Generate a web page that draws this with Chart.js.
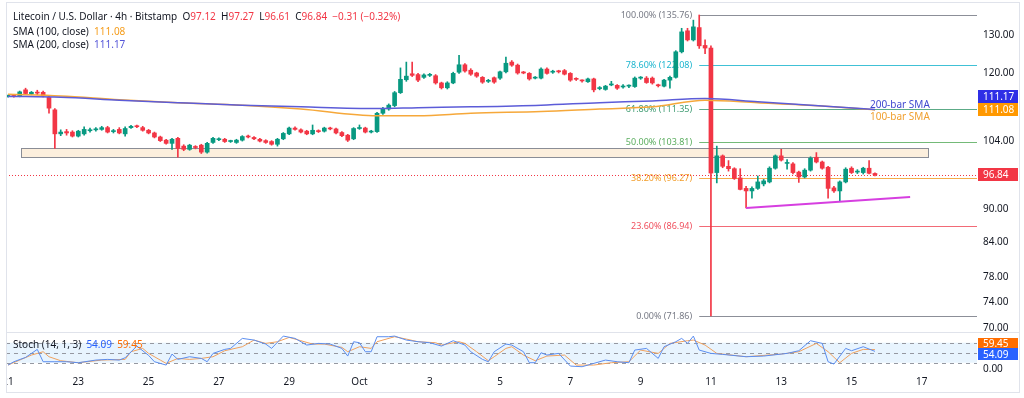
<!DOCTYPE html>
<html>
<head>
<meta charset="utf-8">
<script src="https://cdn.jsdelivr.net/npm/chart.js@4.4.1/dist/chart.umd.min.js"></script>
<style>
  body { margin: 0; background: #fff; font-family: "Noto Sans", sans-serif; }
  #wrap { position: relative; width: 1024px; height: 398px; overflow: hidden; }
  canvas { position: absolute; left: 0; }
  #main { top: 0; }
  #stoch { top: 332px; }
  .legend { position: absolute; left: 13px; font-size: 10px; line-height: 14px; color: #131722; white-space: nowrap; }
  #frame { position: absolute; left: 6px; top: 2px; width: 1014px; height: 391px; box-sizing: border-box; border: 1px solid #e0e3eb; pointer-events: none; }
  #sep { position: absolute; left: 6px; top: 332px; width: 1014px; height: 1px; background: #e0e3eb; }
  #cut { position: absolute; left: 0; top: 372px; width: 6px; height: 20px; background: #fff; }
</style>
</head>
<body>
<div id="wrap">
  <canvas id="main" width="1024" height="332"></canvas>
  <canvas id="stoch" width="1024" height="66"></canvas>
  <div id="cut"></div>
  <div id="frame"></div>
  <div id="sep"></div>
  <div class="legend" id="lg1" style="top:9px"></div>
  <div class="legend" id="lg2" style="top:24px"></div>
  <div class="legend" id="lg3" style="top:37px"></div>
  <div class="legend" id="lg4" style="top:337px"></div>
</div>
<script>
// 4h candles, index 0 = Sep 21 00:00 ... 148 = Oct 15 16:00
var opens = [114.3,114.4,114.4,115.9,114.9,115.2,115.3,114.1,111.1,105.6,106.1,106.0,105.1,105.6,106.3,106.5,106.6,107.0,106.1,106.6,
  105.6,107.0,107.4,107.0,106.4,105.8,104.9,104.2,103.5,104.6,102.9,102.2,102.8,103.1,101.6,103.7,104.3,104.4,103.9,103.7,
  104.2,105.1,104.8,104.4,104.1,103.9,103.3,104.5,105.6,106.9,106.5,106.2,105.6,106.3,106.2,106.9,106.7,105.9,105.3,104.5,
  106.8,106.9,106.0,106.1,110.3,111.3,112.1,115.2,118.4,119.9,119.7,119.0,119.5,119.4,117.6,116.4,117.6,120.3,122.2,120.8,
  120.1,119.0,118.0,118.9,118.8,120.4,122.9,122.1,120.3,120.0,118.8,118.8,121.1,120.3,120.5,120.7,120.0,118.7,118.2,117.9,
  118.6,116.2,116.0,117.1,117.0,116.6,116.8,116.7,118.8,118.8,118.8,117.1,116.8,118.3,119.0,125.6,131.3,128.8,132.2,127.3,
  126.6,97.3,100.8,98.6,98.1,96.2,94.1,93.6,94.1,95.0,95.4,98.2,100.8,99.2,99.1,97.4,96.4,97.8,100.5,99.5,
  98.4,94.2,93.6,95.4,98.2,97.4,97.3,98.2,97.12];
var highs = [114.6,114.6,115.6,116.3,115.5,115.8,115.6,114.3,111.4,106.5,106.6,106.3,106.4,107.2,106.9,107.0,107.3,107.3,106.6,107.0,
  107.2,107.5,107.6,107.3,106.6,106.0,105.1,104.4,104.6,104.8,103.2,103.3,103.0,103.3,103.7,104.8,104.7,104.6,104.2,104.4,
  105.2,105.3,105.0,104.6,104.3,104.1,104.6,105.9,107.1,107.2,106.7,106.4,107.6,106.5,107.1,107.1,106.9,106.1,105.5,107.0,
  107.6,107.1,106.4,110.5,111.7,112.5,115.5,121.4,122.9,122.9,120.0,119.9,120.0,119.7,117.8,117.9,120.3,124.7,122.5,121.2,
  120.3,119.2,118.5,119.1,120.6,124.2,123.3,122.4,120.5,120.2,119.2,121.4,121.4,120.8,120.8,121.0,120.2,118.9,118.4,118.8,
  118.8,116.7,117.0,118.0,117.2,117.2,117.1,119.1,119.2,119.2,119.1,117.3,118.5,119.3,125.9,132.0,132.0,134.3,135.76,128.8,
  127.2,102.9,101.0,99.8,98.3,98.1,94.5,94.4,96.6,95.9,98.5,101.0,102.2,100.0,99.4,97.6,98.1,100.6,101.5,99.7,
  98.6,94.5,95.6,98.3,98.5,97.9,98.4,99.8,97.27];
var lows = [114.1,114.1,114.2,114.8,114.7,114.7,114.2,110.3,102.4,105.2,105.3,104.9,104.9,105.3,106.0,106.2,106.4,105.8,105.8,105.6,
  105.1,106.8,107.0,106.2,105.6,104.7,103.9,103.3,102.2,100.5,101.9,102.0,102.3,101.3,101.4,103.5,104.1,103.7,103.7,103.5,
  104.0,104.7,104.3,103.8,103.5,103.1,102.9,104.3,105.4,106.4,105.8,105.4,105.4,105.9,106.0,106.5,105.6,105.0,103.9,104.3,
  106.6,105.8,105.8,105.9,110.0,111.0,111.8,115.0,118.0,119.2,117.9,118.7,119.2,117.3,116.1,116.1,117.4,120.0,120.3,119.5,
  119.0,117.5,117.7,117.5,118.5,120.1,121.8,119.8,119.9,118.3,118.6,118.6,119.8,120.0,120.1,119.6,118.0,118.2,117.8,117.7,
  115.4,115.9,115.8,116.9,116.0,116.3,116.4,116.5,118.5,117.5,117.3,116.6,116.6,116.3,118.8,125.3,128.5,128.5,126.5,125.1,
  71.86,95.2,98.3,97.6,95.9,93.8,90.3,92.2,93.9,94.6,95.2,98.0,99.7,98.0,97.0,95.3,96.2,97.6,99.3,98.0,
  92.2,93.3,91.5,95.2,97.1,97.1,97.0,97.0,96.61];
var closes = [114.4,114.3,115.4,115.0,115.3,115.1,114.4,111.5,105.6,106.0,105.8,105.1,106.2,106.6,106.5,106.6,107.0,106.0,106.2,105.8,
  106.8,107.3,107.2,106.4,105.8,104.9,104.1,103.5,104.4,102.4,102.2,103.1,102.6,101.6,103.5,104.6,104.5,103.9,104.0,104.2,
  105.0,104.9,104.5,104.0,103.7,103.3,104.4,105.7,106.9,106.6,106.0,105.6,106.4,106.1,106.9,106.7,105.8,105.2,104.2,106.8,
  107.0,106.0,106.2,110.3,111.4,112.2,115.2,118.5,119.3,119.5,118.3,119.6,119.7,117.6,116.4,117.6,120.0,122.2,120.6,119.8,
  119.3,117.8,118.2,117.8,120.4,122.6,122.1,120.1,120.1,118.6,119.0,121.1,120.0,120.5,120.4,119.8,118.3,118.5,118.1,118.6,
  115.9,116.4,116.8,117.3,116.3,116.7,116.9,118.8,118.9,117.7,117.6,116.9,118.3,119.0,125.6,131.0,128.8,132.4,127.2,126.6,
  97.2,100.8,98.6,98.1,96.1,93.9,93.6,94.1,95.4,95.6,98.2,100.8,99.9,99.4,97.3,96.4,97.8,100.3,99.5,98.2,
  94.1,93.6,95.4,98.0,97.3,97.6,98.2,97.15,96.84];

// moving averages, read at a few candle indexes
var smaIdx = [0, 9, 19, 29, 40, 50, 63, 70, 79, 91, 101, 110, 119, 128, 139, 148];
var sma100 = [114.8, 114.4, 113.5, 112.8, 112.2, 111.3, 109.7, 109.7, 110.3, 110.7, 111.3, 111.8, 113.4, 112.8, 112.0, 111.08];
var sma200 = [114.3, 114.1, 113.4, 112.8, 112.2, 111.8, 111.4, 111.6, 111.8, 112.2, 112.8, 113.2, 113.8, 113.0, 112.0, 111.17];

// stochastic %K / %D
var kIdx = [0,1,3,4,5,6,8,10,12,15,17,19,20,22,24,25,27,28,29,31,33,34,35,37,38,40,42,44,45,47,49,51,53,55,57,58,59,60,61,62,
  63,65,66,68,70,72,74,76,78,79,81,82,83,85,86,88,89,90,91,92,94,96,98,100,102,104,106,107,109,111,112,114,115,116,117,118,120,122,126,129,
  133,135,137,139,140,141,143,144,146,148];
var kVal = [13,23,36,48,60,23,23,23,20,28,30,28,35,70,42,23,13,46,30,38,33,23,48,60,63,93,88,76,63,100,93,73,78,76,63,40,83,80,53,53,
  98,98,100,88,83,80,70,86,73,53,30,23,53,76,73,53,20,20,50,43,48,10,8,18,28,23,20,58,63,33,68,83,93,78,100,58,48,45,38,40,
  48,56,86,78,23,16,63,56,68,54.09];
var dIdx = [0,2,4,6,7,9,12,16,20,21,23,24,26,27,29,31,33,35,37,40,42,44,46,48,50,52,54,57,58,60,62,63,66,68,70,73,74,77,78,80,
  82,83,85,86,88,90,92,95,97,100,103,106,108,111,113,116,117,119,121,126,132,135,138,140,142,144,146,148];
var dVal = [13,28,43,53,38,26,20,28,30,53,63,48,28,18,33,30,33,38,56,68,88,78,83,96,86,76,76,66,53,68,63,83,98,91,83,80,73,83,78,53,
  26,38,63,68,43,26,40,43,13,13,20,23,58,48,78,86,88,73,48,38,46,53,78,53,20,48,60,59.45];
var stochLevels = [80, 50, 20];

// fibonacci retracement drawn from candle 118
var fibIdx = 118;
var fibPct = [100, 78.6, 61.8, 50, 38.2, 23.6, 0];
var fibVal = [135.76, 122.08, 111.35, 103.81, 96.27, 86.94, 71.86];
var fibColors = ['#787b86', '#1fb6cf', '#3f9c72', '#5cae60', '#f29d2a', '#f0505e', '#787b86'];

// support zone and rising trend line
var zoneIdx = [2.3, 157];
var zoneVal = [100.6, 102.5];
var trendIdx = [126, 154];
var trendVal = [90.3, 92.4];

var yTicks = [70, 74, 78, 84, 90, 104, 120, 130];
var dayLabels = ['21', '23', '25', '27', '29', 'Oct', '3', '5', '7', '9', '11', '13', '15', '17'];

var GREEN = '#089981', RED = '#f23645';
var FONT = '"Noto Sans", sans-serif';
var xMin = -0.34, xMax = 165.42;

var last = closes.length - 1;
var change = closes[last] - closes[last - 1];

// legend
function span(t, c) { return '<span style="color:' + c + '">' + t + '</span>'; }
function fmtSigned(v) { return (v < 0 ? '\u2212' : '+') + Math.abs(v).toFixed(2); }
document.getElementById('lg1').innerHTML = 'Litecoin / U.S. Dollar \u00b7 4h \u00b7 Bitstamp&nbsp; ' +
  'O' + span(opens[last].toFixed(2), RED) + '&nbsp; H' + span(highs[last].toFixed(2), RED) +
  '&nbsp; L' + span(lows[last].toFixed(2), RED) + '&nbsp; C' + span(closes[last].toFixed(2), RED) +
  '&nbsp; ' + span(fmtSigned(change) + ' (' + fmtSigned(change / closes[last - 1] * 100) + '%)', RED);
document.getElementById('lg2').innerHTML = 'SMA (100, close)&nbsp; ' + span(sma100[sma100.length - 1].toFixed(2), '#f59c1a');
document.getElementById('lg3').innerHTML = 'SMA (200, close)&nbsp; ' + span(sma200[sma200.length - 1].toFixed(2), '#5455d8');
document.getElementById('lg4').innerHTML = 'Stoch (14, 1, 3)&nbsp; ' + span(kVal[kVal.length - 1].toFixed(2), '#2962ff') +
  '&nbsp; ' + span(dVal[dVal.length - 1].toFixed(2), '#ff6d00');

// candle datasets
var bodies = [], wicks = [], colors = [];
for (var i = 0; i < closes.length; i++) {
  bodies.push({ x: i, y: [opens[i], closes[i]] });
  wicks.push({ x: i, y: [lows[i], highs[i]] });
  colors.push(closes[i] >= opens[i] ? GREEN : RED);
}
function pts(idx, vals) { return idx.map(function (v, k) { return { x: v, y: vals[k] }; }); }

// keep the plot area where the layout padding puts it
function noPad(s) { s.paddingTop = 0; s.paddingBottom = 0; s.paddingLeft = 0; s.paddingRight = 0; }

function axisBox(ctx, cy, text, bg, h) {
  ctx.fillStyle = bg;
  ctx.fillRect(978, Math.round(cy - h / 2), 40, h);
  ctx.fillStyle = '#ffffff';
  ctx.font = '10px ' + FONT;
  ctx.textAlign = 'left';
  ctx.textBaseline = 'middle';
  ctx.fillText(text, 983, cy + 0.5);
}

var mainOverlay = {
  id: 'mainOverlay',
  beforeDatasetsDraw: function (chart) {
    var ctx = chart.ctx, a = chart.chartArea, x = chart.scales.x, y = chart.scales.y;
    ctx.save();
    // zone
    var x0 = Math.round(x.getPixelForValue(zoneIdx[0])) + 0.5, x1 = Math.round(x.getPixelForValue(zoneIdx[1])) + 0.5;
    var y0 = Math.round(y.getPixelForValue(zoneVal[1])) + 0.5, y1 = Math.round(y.getPixelForValue(zoneVal[0])) + 0.5;
    ctx.fillStyle = 'rgba(246, 206, 150, 0.32)';
    ctx.fillRect(x0, y0, x1 - x0, y1 - y0);
    ctx.strokeStyle = '#8a8d96';
    ctx.lineWidth = 1;
    ctx.strokeRect(x0, y0, x1 - x0, y1 - y0);
    // fib levels
    var fx = x.getPixelForValue(fibIdx);
    ctx.font = '9px ' + FONT;
    ctx.textAlign = 'right';
    ctx.textBaseline = 'middle';
    fibPct.forEach(function (p, k) {
      var py = Math.round(y.getPixelForValue(fibVal[k])) + 0.5;
      ctx.globalAlpha = 0.85;
      ctx.strokeStyle = fibColors[k];
      ctx.beginPath(); ctx.moveTo(fx, py); ctx.lineTo(a.right, py); ctx.stroke();
      ctx.globalAlpha = 1;
      ctx.fillStyle = fibColors[k];
      ctx.fillText(p.toFixed(2) + '% (' + fibVal[k].toFixed(2) + ')', fx - 7, py);
    });
    // last price line
    var lp = Math.round(y.getPixelForValue(closes[last])) + 0.5;
    ctx.strokeStyle = RED;
    ctx.setLineDash([1, 2]);
    ctx.beginPath(); ctx.moveTo(a.left, lp); ctx.lineTo(a.right, lp); ctx.stroke();
    ctx.restore();
  },
  afterDatasetsDraw: function (chart) {
    var ctx = chart.ctx, x = chart.scales.x, y = chart.scales.y;
    ctx.save();
    // trend line
    ctx.strokeStyle = '#d63fe0';
    ctx.lineWidth = 2;
    ctx.beginPath();
    ctx.moveTo(x.getPixelForValue(trendIdx[0]), y.getPixelForValue(trendVal[0]));
    ctx.lineTo(x.getPixelForValue(trendIdx[1]), y.getPixelForValue(trendVal[1]));
    ctx.stroke();
    // SMA text labels
    var n = smaIdx.length - 1, lx = x.getPixelForValue(smaIdx[n]) - 5;
    ctx.font = '10px ' + FONT;
    ctx.textAlign = 'left';
    ctx.textBaseline = 'middle';
    ctx.fillStyle = '#4048d0';
    ctx.fillText('200-bar SMA', lx, y.getPixelForValue(sma200[n]) - 4);
    ctx.fillStyle = '#f0a030';
    ctx.fillText('100-bar SMA', lx, y.getPixelForValue(sma100[n]) + 7);
    // price scale boxes
    axisBox(ctx, y.getPixelForValue(sma100[n]), sma100[n].toFixed(2), '#ff9800', 13);
    axisBox(ctx, y.getPixelForValue(sma100[n]) - 13, sma200[n].toFixed(2), '#2f2fe6', 13);
    axisBox(ctx, y.getPixelForValue(closes[last]), closes[last].toFixed(2), RED, 13);
    ctx.restore();
  }
};

new Chart(document.getElementById('main'), {
  data: {
    datasets: [
      { type: 'bar', data: bodies, backgroundColor: colors, barThickness: 4, minBarLength: 1, grouped: false, order: 1 },
      { type: 'bar', data: wicks, backgroundColor: colors, barThickness: 1, grouped: false, order: 2 },
      { type: 'line', data: pts(smaIdx, sma200), borderColor: '#5c5cd8', borderWidth: 1.5, pointRadius: 0, cubicInterpolationMode: 'monotone', order: 0 },
      { type: 'line', data: pts(smaIdx, sma100), borderColor: '#f6a83a', borderWidth: 1.5, pointRadius: 0, cubicInterpolationMode: 'monotone', order: 0 }
    ]
  },
  options: {
    responsive: false,
    animation: false,
    layout: { padding: { left: 6, top: 3, bottom: 1, right: 0 } },
    plugins: { legend: { display: false }, tooltip: { enabled: false } },
    scales: {
      x: { type: 'linear', min: xMin, max: xMax, offset: false, display: false },
      y: {
        type: 'logarithmic', position: 'right', min: 69.61, max: 139.25, bounds: 'data',
        afterBuildTicks: function (s) { s.ticks = yTicks.map(function (v) { return { value: v }; }); },
        afterFit: function (s) { s.width = 47; noPad(s); },
        grid: { display: false, drawTicks: false },
        border: { display: false },
        ticks: { autoSkip: false, padding: 6, color: '#131722', font: { size: 10, family: FONT },
          callback: function (v) { return Number(v).toFixed(2); } }
      }
    }
  },
  plugins: [mainOverlay]
});

var stochOverlay = {
  id: 'stochOverlay',
  beforeDatasetsDraw: function (chart) {
    var ctx = chart.ctx, a = chart.chartArea, y = chart.scales.y;
    ctx.save();
    var top = y.getPixelForValue(stochLevels[0]), bot = y.getPixelForValue(stochLevels[2]);
    ctx.fillStyle = 'rgba(33, 150, 243, 0.1)';
    ctx.fillRect(a.left, top, a.right - a.left, bot - top);
    ctx.strokeStyle = '#9598a1';
    ctx.setLineDash([4, 4]);
    stochLevels.forEach(function (v) {
      var py = Math.round(y.getPixelForValue(v)) + 0.5;
      ctx.beginPath(); ctx.moveTo(a.left, py); ctx.lineTo(a.right, py); ctx.stroke();
    });
    ctx.restore();
  },
  afterDatasetsDraw: function (chart) {
    var ctx = chart.ctx, y = chart.scales.y;
    ctx.save();
    var k = kVal[kVal.length - 1], d = dVal[dVal.length - 1];
    axisBox(ctx, y.getPixelForValue(d) - 6, d.toFixed(2), '#ff6d00', 12);
    axisBox(ctx, y.getPixelForValue(k) + 3, k.toFixed(2), '#2962ff', 12);
    ctx.restore();
  }
};

new Chart(document.getElementById('stoch'), {
  type: 'line',
  data: {
    datasets: [
      { data: pts(kIdx, kVal), borderColor: '#5b8def', borderWidth: 1, pointRadius: 0 },
      { data: pts(dIdx, dVal), borderColor: '#f0a15e', borderWidth: 1, pointRadius: 0 }
    ]
  },
  options: {
    responsive: false,
    animation: false,
    layout: { padding: { left: 6, top: 1, bottom: 0, right: 0 } },
    plugins: { legend: { display: false }, tooltip: { enabled: false } },
    scales: {
      x: {
        type: 'linear', min: xMin, max: xMax,
        afterBuildTicks: function (s) { s.ticks = dayLabels.map(function (l, k) { return { value: k * 12 }; }); },
        afterFit: function (s) { s.height = 26; noPad(s); },
        grid: { display: false, drawTicks: false },
        border: { display: false },
        ticks: { autoSkip: false, maxRotation: 0, padding: 4, color: '#131722', font: { size: 10, family: FONT },
          callback: function (v) { return dayLabels[Math.round(v / 12)]; } }
      },
      y: {
        position: 'right', min: -7.8, max: 109.2,
        afterBuildTicks: function (s) { s.ticks = [{ value: 0 }]; },
        afterFit: function (s) { s.width = 47; noPad(s); },
        grid: { display: false, drawTicks: false },
        border: { display: false },
        ticks: { padding: 6, color: '#131722', font: { size: 10, family: FONT },
          callback: function (v) { return Number(v).toFixed(2); } }
      }
    }
  },
  plugins: [stochOverlay]
});
</script>
</body>
</html>
